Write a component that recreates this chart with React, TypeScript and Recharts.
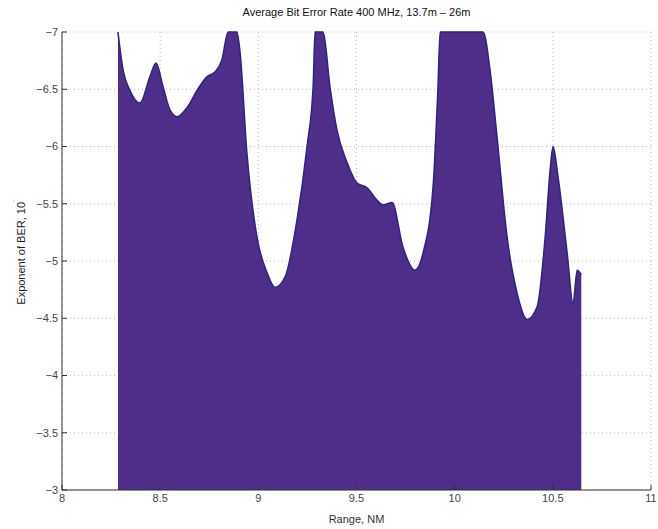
import React from 'react';
import { AreaChart, Area, XAxis, YAxis, CartesianGrid } from 'recharts';

const rangeNM = [
  8.285, 8.311, 8.346, 8.382, 8.397, 8.448, 8.479, 8.515, 8.55, 8.586, 8.637, 8.688, 8.739, 8.779, 8.815,
  8.846, 8.891, 8.907, 8.942, 8.993, 9.044, 9.085, 9.136, 9.197, 9.248, 9.279, 9.289, 9.33, 9.365, 9.401,
  9.452, 9.503, 9.554, 9.605, 9.635, 9.681, 9.737, 9.798, 9.839, 9.89, 9.915, 9.926, 10.145, 10.18, 10.216,
  10.267, 10.318, 10.369, 10.42, 10.461, 10.486, 10.501, 10.527, 10.573, 10.603, 10.624, 10.645,
];
const berExponent = [
  -7.0, -6.67, -6.49, -6.39, -6.38, -6.61, -6.73, -6.52, -6.32, -6.26, -6.34, -6.49, -6.61, -6.65, -6.76,
  -7.0, -7.0, -6.82, -5.94, -5.21, -4.9, -4.77, -4.86, -5.36, -6.0, -6.52, -7.0, -7.0, -6.52, -6.14,
  -5.86, -5.68, -5.64, -5.53, -5.49, -5.51, -5.12, -4.92, -5.07, -5.65, -6.52, -7.0, -7.0, -6.67, -6.08,
  -5.21, -4.72, -4.49, -4.6, -5.21, -5.79, -6.0, -5.73, -5.07, -4.63, -4.92, -4.88,
];
const xTicks = [8, 8.5, 9, 9.5, 10, 10.5, 11];
const yTicks = [-7, -6.5, -6, -5.5, -5, -4.5, -4, -3.5, -3];
const title = 'Average Bit Error Rate 400 MHz, 13.7m \u2013 26m';
const xLabel = 'Range, NM';
const yLabel = 'Exponent of BER, 10';

const data = rangeNM.map((r, i) => ({ range: r, ber: berExponent[i] }));

const font = '"Liberation Sans", Arial, sans-serif';
const fmt = (v: number) => String(v).replace('-', '\u2212');

export default function App() {
  return (
    <div style={{ position: 'absolute', left: 0, top: 0, width: 658, height: 529, background: '#fff', fontFamily: font }}>
      <div style={{ position: 'absolute', left: 62, width: 589, top: 6, textAlign: 'center', fontSize: 11, color: '#111' }}>
        {title}
      </div>
      <AreaChart width={658} height={529} data={data} margin={{ top: 32, right: 7, left: 22, bottom: 14 }}>
        <CartesianGrid stroke="#b8b8b8" strokeDasharray="1 3" horizontal vertical />
        <XAxis
          dataKey="range"
          type="number"
          domain={[8, 11]}
          ticks={xTicks}
          height={25}
          tickSize={-5}
          tickMargin={9}
          tickFormatter={fmt}
          stroke="#333"
          tick={{ fill: '#444', fontSize: 11, fontFamily: font }}
          label={{ value: xLabel, position: 'insideBottom', offset: -8, fill: '#333', fontSize: 11, fontFamily: font }}
        />
        <XAxis
          xAxisId="top"
          orientation="top"
          dataKey="range"
          type="number"
          domain={[8, 11]}
          ticks={xTicks}
          height={0}
          tickSize={-5}
          tickFormatter={() => ''}
          stroke="#333"
        />
        <YAxis
          type="number"
          domain={[-7, -3]}
          reversed
          ticks={yTicks}
          width={40}
          tickSize={-5}
          tickMargin={9}
          tickFormatter={fmt}
          stroke="#333"
          tick={{ fill: '#444', fontSize: 11, fontFamily: font }}
          label={{
            content: () => (
              <text x={25} y={252} transform="rotate(-90 25 252)" textAnchor="middle" fill="#222" fontSize={11} fontFamily={font}>
                {yLabel}
                <tspan dy={-6} fontSize={8}>{'\u02D9'}</tspan>
              </text>
            ),
          }}
        />
        <YAxis
          yAxisId="right"
          orientation="right"
          type="number"
          domain={[-7, -3]}
          reversed
          ticks={yTicks}
          width={0}
          tickSize={-5}
          tickFormatter={() => ''}
          stroke="#333"
        />
        <Area
          type="monotone"
          dataKey="ber"
          baseValue={-3}
          stroke="#2a2482"
          strokeWidth={1.5}
          fill="#4e2e88"
          fillOpacity={1}
          isAnimationActive={false}
          dot={false}
          activeDot={false}
        />
      </AreaChart>
    </div>
  );
}
